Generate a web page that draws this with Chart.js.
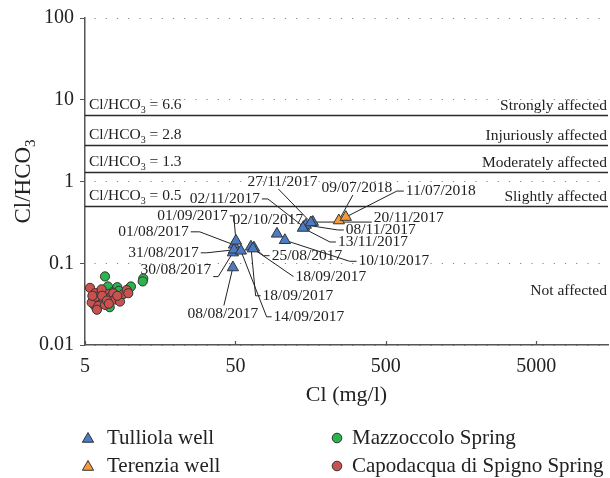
<!DOCTYPE html>
<html>
<head>
<meta charset="utf-8">
<script src="https://cdn.jsdelivr.net/npm/chart.js@4.4.1/dist/chart.umd.min.js"></script>
<style>
  html, body { margin: 0; padding: 0; background: #fff; }
</style>
</head>
<body>
<canvas id="chart" width="610" height="478"></canvas>
<script>
// Tulliola well samples (blue triangles)
const tulliolaDates = ["01/08/2017", "08/08/2017", "25/08/2017", "30/08/2017", "31/08/2017", "01/09/2017",
  "14/09/2017", "18/09/2017", "18/09/2017", "02/10/2017", "10/10/2017", "02/11/2017",
  "08/11/2017", "13/11/2017", "20/11/2017", "27/11/2017"];
const tulliolaCl = [48.9, 48.1, 66.4, 48.1, 48.9, 50.4, 54.4, 63.4, 65.3, 94.4, 106.6, 142.6, 146.9, 140.5, 163.6, 158.8];
const tulliolaRatio = [0.168, 0.0887, 0.155, 0.135, 0.146, 0.188, 0.142, 0.159, 0.151, 0.229, 0.191, 0.278, 0.294, 0.270, 0.319, 0.315];

// Terenzia well (orange triangles)
const terenziaDates = ["09/07/2018", "11/07/2018"];
const terenziaCl = [243.6, 271];
const terenziaRatio = [0.333, 0.367];

// Mazzoccolo Spring (green)
const mazzoccoloCl = [6.79, 7.1, 8.2, 8.4, 9.8, 10.1, 7.3, 12.2, 12.1, 7.6];
const mazzoccoloRatio = [0.069, 0.052, 0.051, 0.046, 0.049, 0.052, 0.029, 0.065, 0.060, 0.044];

// Capodacqua di Spigno Spring (red)
const capodacquaCl = [5.40, 5.68, 5.83, 6.13, 6.29, 6.62, 6.97, 7.33, 7.71, 7.91, 8.54, 8.98, 9.46, 9.70,
  5.83, 5.54, 6.13, 6.79, 6.45, 5.9, 6.5, 7.0, 5.6, 7.2, 8.2, 6.0];
const capodacquaRatio = [0.050, 0.036, 0.030, 0.043, 0.038, 0.034, 0.042, 0.038, 0.043, 0.036, 0.034, 0.042, 0.047, 0.043,
  0.043, 0.033, 0.030, 0.031, 0.048, 0.039, 0.040, 0.035, 0.040, 0.032, 0.040, 0.027];

const xTicks = [5, 50, 500, 5000];
const yTicks = [0.01, 0.1, 1, 10, 100];
const thresholds = [6.6, 2.8, 1.3, 0.5];
const classNames = ["Strongly affected", "Injuriously affected", "Moderately affected", "Slightly affected", "Not affected"];
const seriesNames = ["Tulliola well", "Terenzia well", "Mazzoccolo Spring", "Capodacqua di Spigno Spring"];

// where each date label sits (px from its point) and how the leader leaves it
const tulliolaLabelPos = [
  { dx: -80.5, dy: -13, side: "right", stub: 9 },
  { dx: -10, dy: 46, side: "top", ax: 1 },
  { dx: 53, dy: 8, side: "left", stub: 6 },
  { dx: -57, dy: 17, side: "right", stub: 5, sy: 7 },
  { dx: -70.5, dy: 3, side: "right", stub: 6 },
  { dx: -43.5, dy: -25, side: "right", stub: 4 },
  { dx: 68, dy: 66, side: "left", stub: 5 },
  { dx: 47, dy: 49, side: "left", stub: 5 },
  { dx: 78, dy: 28, side: "left", stub: 0 },
  { dx: -9, dy: -14, side: "none" },
  { dx: 109, dy: 21, side: "left", stub: 7 },
  { dx: -79, dy: -28, side: "right", stub: 6 },
  { dx: 75, dy: 5, side: "left", stub: 6 },
  { dx: 70, dy: 14, side: "left", stub: 6 },
  { dx: 96, dy: -4, side: "left", stub: 0, sy: 4 },
  { dx: -28.5, dy: -40.5, side: "bottom", ax: -4 }
];
const terenziaLabelPos = [
  { dx: 18, dy: -32.5, side: "bottom", ax: -4 },
  { dx: 95, dy: -26, side: "left", stub: 7 }
];

const serif = "'Liberation Serif', 'Times New Roman', serif";
const ink = "#222";
const colors = ["#4a7bc4", "#f39a3a", "#2bb34d", "#c9514e"];

function toPoints(xs, ys) {
  return xs.map((v, i) => ({ x: v, y: ys[i] }));
}

function marker(ctx, style, x, y, r, fill) {
  ctx.beginPath();
  if (style === "triangle") {
    ctx.moveTo(x, y - r);
    ctx.lineTo(x + r * 0.866, y + r * 0.5);
    ctx.lineTo(x - r * 0.866, y + r * 0.5);
    ctx.closePath();
  } else {
    ctx.arc(x, y, r, 0, Math.PI * 2);
  }
  ctx.fillStyle = fill;
  ctx.fill();
  ctx.lineWidth = 1;
  ctx.strokeStyle = "#333";
  ctx.stroke();
}

function ratioText(ctx, x, y, val) {
  ctx.font = "15.5px " + serif;
  ctx.textAlign = "left";
  ctx.textBaseline = "alphabetic";
  ctx.fillText("Cl/HCO", x, y);
  let w = ctx.measureText("Cl/HCO").width;
  ctx.font = "10px " + serif;
  ctx.fillText("3", x + w, y + 4);
  w += ctx.measureText("3").width;
  ctx.font = "15.5px " + serif;
  ctx.fillText(" = " + val, x + w, y);
}

function dateLabel(ctx, px, py, text, p) {
  ctx.font = "15.5px " + serif;
  ctx.textAlign = "center";
  ctx.textBaseline = "middle";
  const w = ctx.measureText(text).width;
  const cx = px + p.dx, cy = py + p.dy;
  ctx.fillStyle = ink;
  ctx.fillText(text, cx, cy);
  if (p.side === "none") return;
  ctx.beginPath();
  if (p.side === "right" || p.side === "left") {
    const s = p.side === "right" ? 1 : -1;
    const sx = cx + s * (w / 2 + 2);
    const sy = cy + (p.sy || 0);
    ctx.moveTo(sx, sy);
    ctx.lineTo(sx + s * p.stub, sy);
  } else {
    const sy = p.side === "bottom" ? cy + 7 : cy - 8;
    ctx.moveTo(cx + (p.ax || 0), sy);
  }
  ctx.lineTo(px, py);
  ctx.strokeStyle = ink;
  ctx.lineWidth = 1;
  ctx.stroke();
}

const overlay = {
  id: "overlay",
  beforeDatasetsDraw(chart) {
    const { ctx, chartArea: a, scales: { x, y } } = chart;
    ctx.save();
    ctx.fillStyle = ink;
    thresholds.forEach((t, i) => {
      const py = Math.round(y.getPixelForValue(t)) + 0.5;
      ctx.beginPath();
      ctx.moveTo(a.left, py);
      ctx.lineTo(a.right, py);
      ctx.strokeStyle = "#2b2b2b";
      ctx.lineWidth = 1.4;
      ctx.stroke();
      ratioText(ctx, a.left + 4, py - 6.5, t);
      ctx.font = "15.5px " + serif;
      ctx.textAlign = "right";
      ctx.fillText(classNames[i], a.right - 1, py - 5.5);
    });
    ctx.fillText(classNames[4], a.right - 1, y.getPixelForValue(0.1) + 32);

    tulliolaDates.forEach((d, i) => {
      dateLabel(ctx, x.getPixelForValue(tulliolaCl[i]), y.getPixelForValue(tulliolaRatio[i]), d, tulliolaLabelPos[i]);
    });
    terenziaDates.forEach((d, i) => {
      dateLabel(ctx, x.getPixelForValue(terenziaCl[i]), y.getPixelForValue(terenziaRatio[i]), d, terenziaLabelPos[i]);
    });
    ctx.restore();
  },
  afterDraw(chart) {
    const { ctx, chartArea: a, scales: { x } } = chart;
    ctx.save();
    // small x ticks pointing inwards
    ctx.strokeStyle = "#555";
    ctx.lineWidth = 1.2;
    xTicks.forEach(v => {
      const px = Math.round(x.getPixelForValue(v)) + 0.5;
      ctx.beginPath();
      ctx.moveTo(px, a.bottom);
      ctx.lineTo(px, a.bottom - 4);
      ctx.stroke();
    });

    ctx.fillStyle = ink;
    // x title
    ctx.font = "22px " + serif;
    ctx.textAlign = "center";
    ctx.textBaseline = "middle";
    ctx.fillText("Cl (mg/l)", (a.left + a.right) / 2, 395);

    // y title with subscript
    ctx.save();
    ctx.translate(22, (a.top + a.bottom) / 2);
    ctx.rotate(-Math.PI / 2);
    ctx.textBaseline = "alphabetic";
    ctx.textAlign = "left";
    ctx.font = "23px " + serif;
    const w1 = ctx.measureText("Cl/HCO").width;
    ctx.font = "15px " + serif;
    const w2 = ctx.measureText("3").width;
    const x0 = -(w1 + w2) / 2;
    ctx.font = "23px " + serif;
    ctx.fillText("Cl/HCO", x0, 8);
    ctx.font = "15px " + serif;
    ctx.fillText("3", x0 + w1, 13);
    ctx.restore();

    // legend, two columns
    const spots = [[88, 438, 19], [88, 466, 19], [337, 438, 15], [337, 466, 15]];
    const styles = ["triangle", "triangle", "circle", "circle"];
    seriesNames.forEach((name, i) => {
      const [lx, ly, gap] = spots[i];
      if (styles[i] === "triangle") marker(ctx, "triangle", lx, ly + 1, 6.5, colors[i]);
      else marker(ctx, "circle", lx, ly, 4.8, colors[i]);
      ctx.fillStyle = ink;
      ctx.font = "21px " + serif;
      ctx.textAlign = "left";
      ctx.textBaseline = "middle";
      ctx.fillText(name, lx + gap, ly);
    });
    ctx.restore();
  }
};

const tickFont = { family: serif, size: 20 };

new Chart(document.getElementById("chart"), {
  type: "scatter",
  data: {
    datasets: [
      {
        label: seriesNames[0],
        data: toPoints(tulliolaCl, tulliolaRatio),
        pointStyle: "triangle", pointRadius: 6.5, pointHoverRadius: 6.5,
        backgroundColor: colors[0], borderColor: "#333", borderWidth: 1
      },
      {
        label: seriesNames[1],
        data: toPoints(terenziaCl, terenziaRatio),
        pointStyle: "triangle", pointRadius: 6.5, pointHoverRadius: 6.5,
        backgroundColor: colors[1], borderColor: "#333", borderWidth: 1
      },
      {
        label: seriesNames[3],
        data: toPoints(capodacquaCl, capodacquaRatio),
        pointStyle: "circle", pointRadius: 4.6, pointHoverRadius: 4.6,
        backgroundColor: colors[3], borderColor: "#333", borderWidth: 1
      },
      {
        label: seriesNames[2],
        data: toPoints(mazzoccoloCl, mazzoccoloRatio),
        pointStyle: "circle", pointRadius: 4.6, pointHoverRadius: 4.6,
        backgroundColor: colors[2], borderColor: "#333", borderWidth: 1
      }
    ]
  },
  options: {
    responsive: false,
    animation: false,
    layout: { autoPadding: false, padding: { left: 0, right: 2, top: 15, bottom: 88 } },
    plugins: { legend: { display: false }, tooltip: { enabled: false } },
    scales: {
      x: {
        type: "logarithmic",
        min: 5,
        max: 15000,
        afterBuildTicks: s => { s.ticks = xTicks.map(v => ({ value: v })); },
        afterFit: s => { s.height = 45; s.paddingLeft = 0; s.paddingRight = 0; },
        ticks: { callback: v => String(v), font: tickFont, color: ink, padding: 10, maxRotation: 0, autoSkip: false },
        grid: { display: false, drawTicks: false },
        border: { display: true, color: "#555", width: 1.5 }
      },
      y: {
        type: "logarithmic",
        min: 0.01,
        max: 100,
        afterBuildTicks: s => { s.ticks = yTicks.map(v => ({ value: v })); },
        afterFit: s => { s.width = 85; },
        ticks: { callback: v => String(v), font: tickFont, color: ink, padding: 6 },
        grid: { color: "#888", lineWidth: 1, tickLength: 5, tickColor: "#555", drawTicks: true },
        border: { display: true, color: "#555", width: 1.5, dash: [1.2, 10], dashOffset: -9 }
      }
    }
  },
  plugins: [overlay]
});
</script>
</body>
</html>
